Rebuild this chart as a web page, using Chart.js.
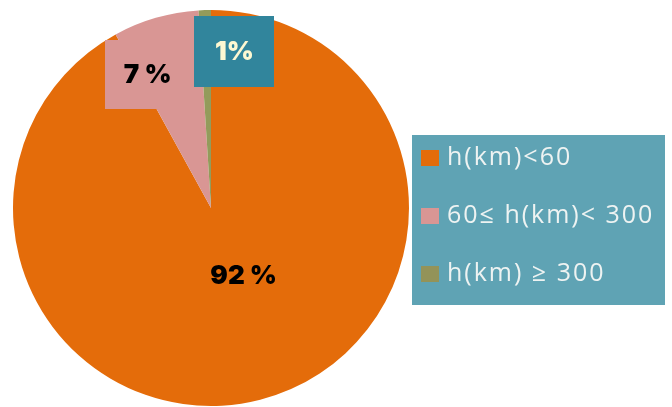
<!DOCTYPE html>
<html>
<head>
<meta charset="utf-8">
<script src="https://cdn.jsdelivr.net/npm/chart.js@4"></script>
<style>
  html, body { margin: 0; padding: 0; background: #fff; }
  #wrap { width: 672px; height: 407px; }
</style>
</head>
<body>
<div id="wrap"><canvas id="myChart" width="672" height="407"></canvas></div>
<script>
// data
const labels = ['h(km)<60', '60\u2264 h(km)< 300', 'h(km) \u2265 300'];
const values = [92, 7, 1];
const valueLabels = ['92 %', '7 %', '1%'];
const sliceColors = ['#e46c0a', '#d99694', '#939b5b'];
const legendColors = ['#e46c0a', '#d99694', '#939359'];

// value label boxes (offsets in units of radius from pie centre)
const boxStyle = [
  { dx: 0.165, dy: 0.34, w: 0, h: 0, bg: null, color: '#000' },
  { dx: -0.32, dy: -0.675, w: 86, h: 69, bg: '#d99694', color: '#000' },
  { dx: 0.118, dy: -0.79, w: 80, h: 71, bg: '#31859c', color: '#fdf8d2' }
];

const valueBoxes = {
  id: 'valueBoxes',
  afterDatasetsDraw(chart) {
    const c = chart.ctx;
    const arcs = chart.getDatasetMeta(0).data;
    const cx = arcs[0].x, cy = arcs[0].y, r = arcs[0].outerRadius;
    c.save();
    valueLabels.forEach((txt, i) => {
      const s = boxStyle[i];
      const x = cx + s.dx * r, y = cy + s.dy * r;
      if (s.bg) {
        c.fillStyle = s.bg;
        c.fillRect(Math.round(x - s.w / 2), Math.round(y - s.h / 2), s.w, s.h);
      }
      c.fillStyle = s.color;
      c.font = '900 26px Inter';
      c.textAlign = 'center';
      c.textBaseline = 'middle';
      c.fillText(txt, x, y + 1);
    });
    c.restore();
  }
};

const sideLegend = {
  id: 'sideLegend',
  afterDraw(chart) {
    const c = chart.ctx;
    c.save();
    c.fillStyle = '#5fa3b4';
    c.fillRect(412, 135, 253, 170);
    const rowY = [158, 216, 274];
    labels.forEach((lab, i) => {
      c.fillStyle = legendColors[i];
      c.fillRect(421, rowY[i] - 8, 18, 16);
      c.fillStyle = '#eef3f2';
      c.font = '25px "Open Sans"';
      c.letterSpacing = '2px';
      c.textAlign = 'left';
      c.textBaseline = 'middle';
      c.fillText(lab, 447, rowY[i]);
    });
    c.restore();
  }
};

const ctx = document.getElementById('myChart');
const myChart = new Chart(ctx, {
  type: 'pie',
  data: {
    labels: labels,
    datasets: [{
      data: values,
      backgroundColor: sliceColors,
      borderWidth: 0
    }]
  },
  options: {
    responsive: false,
    animation: false,
    layout: { padding: { left: 12, right: 262, top: 10, bottom: 1 } },
    plugins: {
      legend: { display: false },
      tooltip: { enabled: false }
    }
  },
  plugins: [valueBoxes, sideLegend]
});
</script>
</body>
</html>
